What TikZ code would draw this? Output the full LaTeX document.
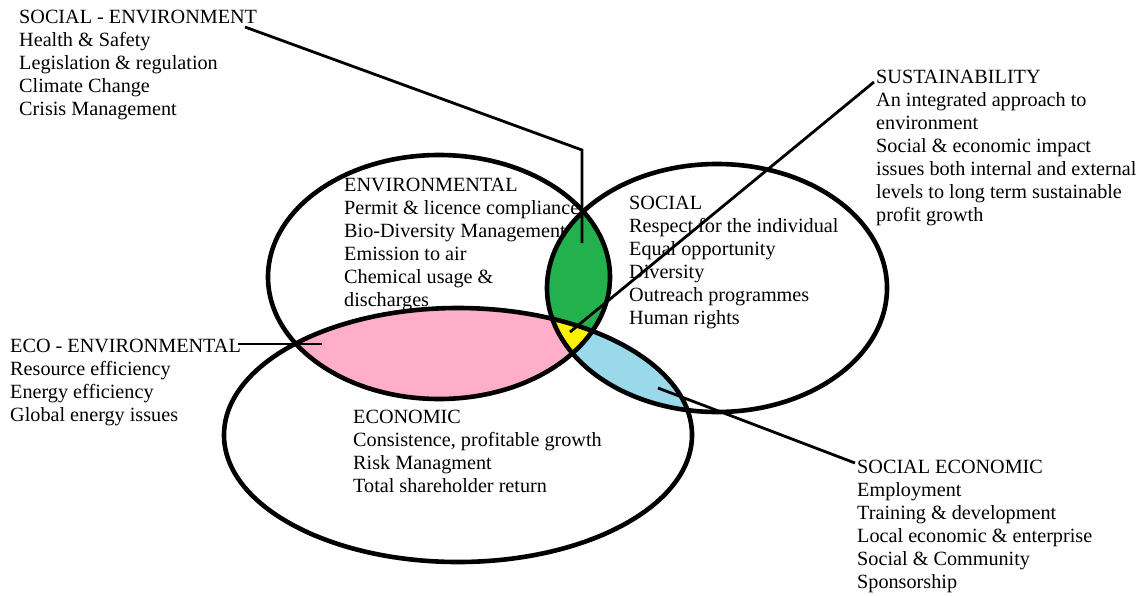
\documentclass[tikz,border=0pt]{standalone}
\usepackage{fontspec}
\setmainfont{Liberation Serif}
\usetikzlibrary{shapes.geometric}
\definecolor{rose}{RGB}{255,174,201}
\definecolor{pgreen}{RGB}{34,177,76}
\definecolor{turq}{RGB}{153,217,234}
\definecolor{pyellow}{RGB}{255,242,0}
\begin{document}
\begin{tikzpicture}[x=1pt,y=-1pt,
  txt/.style={anchor=base west, align=left, inner sep=0pt, font=\fontsize{20.2}{23}\selectfont},
  ring/.style={ellipse, draw=black, line width=4.6pt, inner sep=0pt},
  conn/.style={draw=black, line width=2.8pt}]
\useasboundingbox (0,0) rectangle (1142,595);
% fills
\begin{scope}
  \clip (439,277) ellipse [x radius=171pt, y radius=122pt];
  \fill[rose] (458,435) ellipse [x radius=234pt, y radius=127pt];
\end{scope}
\begin{scope}
  \clip (439,277) ellipse [x radius=171pt, y radius=122pt];
  \fill[pgreen] (717,288) ellipse [x radius=170pt, y radius=124pt];
\end{scope}
\begin{scope}
  \clip (717,288) ellipse [x radius=170pt, y radius=124pt];
  \fill[turq] (458,435) ellipse [x radius=234pt, y radius=127pt];
\end{scope}
\begin{scope}
  \clip (439,277) ellipse [x radius=171pt, y radius=122pt];
  \clip (717,288) ellipse [x radius=170pt, y radius=124pt];
  \fill[pyellow] (458,435) ellipse [x radius=234pt, y radius=127pt];
\end{scope}
% outlines
\node[ring, minimum width=342pt, minimum height=244pt] (env) at (439,277) {};
\node[ring, minimum width=340pt, minimum height=248pt] (soc) at (717,288) {};
\node[ring, minimum width=468pt, minimum height=254pt] (eco) at (458,435) {};
% texts (anchor = baseline of last line)
\node[txt] (tse) at (19,115) {SOCIAL - ENVIRONMENT\\Health \& Safety\\Legislation \& regulation\\Climate Change\\Crisis Management};
\node[txt] (tsus) at (876,221) {SUSTAINABILITY\\An integrated approach to\\environment\\Social \& economic impact\\issues both internal and external\\levels to long term sustainable\\profit growth};
\node[txt] (tenv) at (344,306) {ENVIRONMENTAL\\Permit \& licence compliance\\Bio-Diversity Management\\Emission to air\\Chemical usage \&\\discharges};
\node[txt] (tsoc) at (629,324) {SOCIAL\\Respect for the individual\\Equal opportunity\\Diversity\\Outreach programmes\\Human rights};
\node[txt] (tecoenv) at (10,421) {ECO - ENVIRONMENTAL\\Resource efficiency\\Energy efficiency\\Global energy issues};
\node[txt] (teco) at (353,492) {ECONOMIC\\Consistence, profitable growth\\Risk Managment\\Total shareholder return};
\node[txt] (tsoceco) at (857,588) {SOCIAL ECONOMIC\\Employment\\Training \& development\\Local economic \& enterprise\\Social \& Community\\Sponsorship};
% connector points
\coordinate (seA) at (245,27);
\coordinate (seB) at (582,150);
\coordinate (seC) at (582,243);
\coordinate (susA) at (874,82);
\coordinate (susB) at (570,332);
\coordinate (eeA) at (238,344);
\coordinate (eeB) at (322,344);
\coordinate (scA) at (855,463);
\coordinate (scB) at (658,388);
\draw[conn] (seA) -- (seB) -- (seC);
\draw[conn] (susA) -- (susB);
\draw[conn] (eeA) -- (eeB);
\draw[conn] (scA) -- (scB);
\end{tikzpicture}
\end{document}
